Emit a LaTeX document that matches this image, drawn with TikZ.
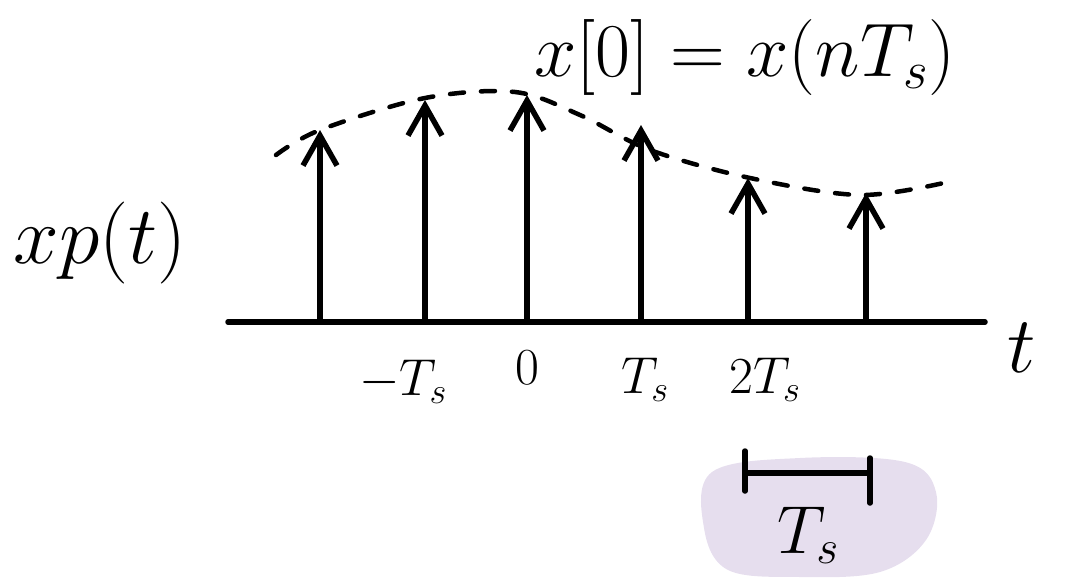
\RequirePackage{fix-cm}
\documentclass[tikz,border=0pt]{standalone}
\usepackage{amsmath}
\usetikzlibrary{arrows.meta}
\definecolor{lilac}{HTML}{E6DEEE}

\begin{document}
\begin{tikzpicture}[x=1pt, y=-1pt,
  pen/.style={line width=5.5pt, line cap=round},
  spike/.style={pen, -{Straight Barb[length=30pt, width=34pt]}},
  envelope/.style={line width=4.5pt, line cap=round, dash pattern=on 14pt off 17pt},
  big/.style={inner sep=0pt, font=\fontsize{#1}{#1}\selectfont},
  big/.default=52
]
  \useasboundingbox (0,0) rectangle (1067,578);

  % shaded patch behind the period marker
  \fill[lilac] plot[smooth cycle, tension=0.6] coordinates
    {(712,472) (800,458) (905,462) (936,492) (926,540) (880,572) (800,577) (728,570) (704,528)};

  % time axis
  \coordinate (axl) at (228,322);
  \coordinate (axr) at (985,322);
  \draw[pen] (axl) -- (axr);
  \node[big=80] (tvar) at (1022,348) {$t$};

  % samples
  \foreach \n/\x/\y in {1/320/130, 2/425/100, 3/527/95, 4/641/125, 5/748/178, 6/866/193} {
    \coordinate (b\n) at (\x,322);
    \coordinate (p\n) at (\x,\y);
    \draw[spike] (b\n) -- (p\n);
  }

  % envelope x(t)
  \draw[envelope] plot[smooth, tension=0.55] coordinates
    {(276,155) (320,130) (425,98) (515,92) (580,115) (650,150) (750,178) (860,195) (948,182)};

  \node[big=76] (xn) at (745,58) {$x[0] = x(nT_s)$};
  \node[big=82] (xp) at (100,243) {$xp(t)$};

  % tick labels
  \node[big] (tmin) at (403,382) {$-T_s$};
  \node[big] (tzero) at (527,368) {$0$};
  \node[big] (tone) at (645,380) {$T_s$};
  \node[big] (ttwo) at (765,380) {$2T_s$};

  % one period
  \coordinate (ql) at (745,473);
  \coordinate (qr) at (870,473);
  \draw[pen] (ql) -- (qr);
  \draw[pen] ([yshift=-18pt]ql) -- ([yshift=22pt]ql);
  \draw[pen] ([yshift=-30pt]qr) -- ([yshift=15pt]qr);
  \node[big=68] (per) at (808,535) {$T_s$};
\end{tikzpicture}
\end{document}
